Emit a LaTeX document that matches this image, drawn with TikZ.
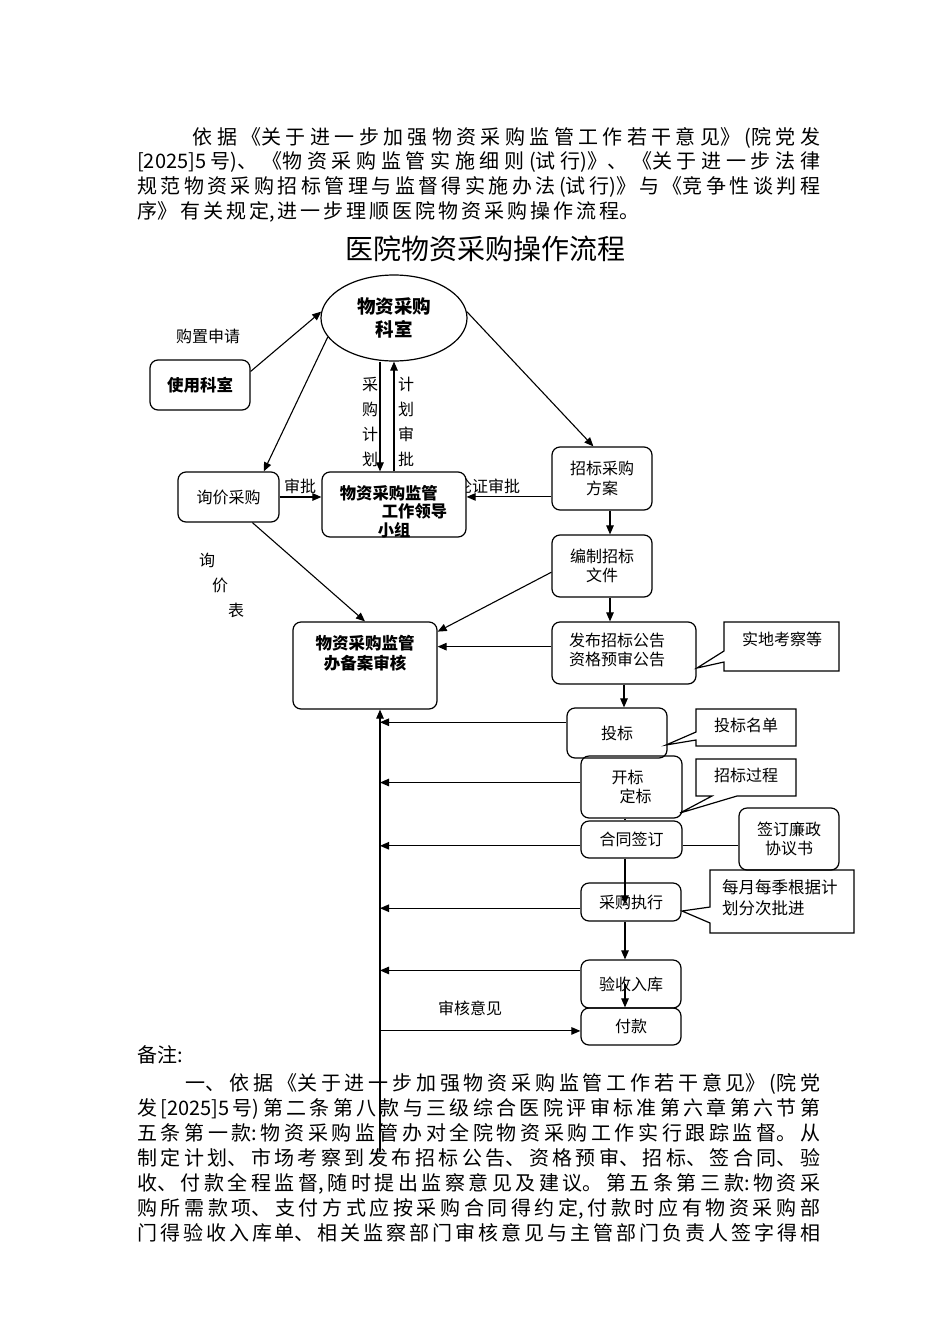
\documentclass[tikz,border=0pt]{standalone}
\usepackage{fontspec}
\setmainfont{Noto Sans CJK SC}
\usetikzlibrary{arrows.meta,shapes.geometric}
\newcommand{\jline}[1]{\noindent #1\par}
\newcommand{\cjkpar}[1]{\XeTeXlinebreaklocale "zh"\XeTeXlinebreakskip=#1 plus 20pt\relax\parfillskip=0pt\relax}

\begin{document}
\begin{tikzpicture}[x=1pt,y=-1pt,
    box/.style={draw,line width=1.2pt,rounded corners=8pt,inner sep=0pt,align=center,font=\fontsize{16}{19.5}\selectfont},
    bbox/.style={box,font=\bfseries\fontsize{16.5}{19.5}\selectfont},
    lbl/.style={inner sep=0pt,align=center,font=\fontsize{16}{19.5}\selectfont},
    note/.style={line width=1.2pt},
    para/.style={inner sep=0pt,anchor=north west,text width=683pt,align=justify},
    arr/.style={line width=1.1pt,-{Triangle[length=9pt,width=7.5pt]}},
    ln/.style={line width=1.1pt}]

    \fill[white] (0,0) rectangle (950,1344);
    \useasboundingbox (0,0) rectangle (950,1344);

    % opening text and title
    \node[para,font=\fontsize{20}{24.8}\selectfont] (intro) at (137,127) {\cjkpar{3pt}
        \jline{\hspace*{51pt}依据《关于进一步加强物资采购监管工作若干意见》(院党发}
        \jline{[2025]5号)、《物资采购监管实施细则(试行)》、《关于进一步法律}
        \jline{规范物资采购招标管理与监督得实施办法(试行)》与《竞争性谈判程}
        {\parfillskip=0pt plus 1fil\relax\jline{序》有关规定,进一步理顺医院物资采购操作流程。}}};
    \node[inner sep=0pt,font=\fontsize{28}{32}\selectfont] (title) at (485,249) {医院物资采购操作流程};

    % upper part
    \node[ellipse,draw,line width=1.2pt,minimum width=146pt,minimum height=86pt,inner sep=0pt,align=center,
          font=\bfseries\fontsize{18.5}{23}\selectfont] (ks) at (394,318) {物资采购\\科室};
    \node[bbox,minimum width=100pt,minimum height=50pt] (sy) at (200,385) {使用科室};
    \node[lbl] (gzsq) at (208,336) {购置申请};
    \node[box,minimum width=101pt,minimum height=50pt] (xj) at (228.5,497) {询价采购};

    \node[lbl] (lzsp) at (488,486) {论证审批};
    \node[box,fill=white,minimum width=144pt,minimum height=65pt] (ld) at (394,504.5) {};
    \node[lbl,align=left,font=\bfseries\fontsize{16.3}{18.5}\selectfont] (ld-t) at (393.5,511.5)
        {物资采购监管\\\hspace*{42pt}工作领导\\\hspace*{38pt}小组};

    \node[lbl,font=\fontsize{16}{25}\selectfont] (cgjh) at (370,422) {采\\购\\计\\划};
    \node[lbl,font=\fontsize{16}{25}\selectfont] (jhsp) at (406,422) {计\\划\\审\\批};
    \node[lbl] (sp) at (300,486) {审批};
    \node[lbl,align=left,font=\fontsize{16}{25}\selectfont] (xjb) at (221.5,585)
        {询\\\hspace*{13pt}价\\\hspace*{29pt}表};

    \node[box,minimum width=100pt,minimum height=63pt] (zb) at (602,478.5) {招标采购\\方案};
    \node[box,minimum width=100pt,minimum height=62pt] (bz) at (602,566) {编制招标\\文件};
    \node[box,minimum width=144pt,minimum height=62pt] (fb) at (624,653) {};
    \node[lbl] (fb-t) at (617,650) {发布招标公告\\资格预审公告};
    \node[box,minimum width=144pt,minimum height=87pt] (ba) at (365,665.5) {};
    \node[lbl,font=\bfseries\fontsize{16.5}{20}\selectfont] (ba-t) at (365,653) {物资采购监管\\办备案审核};

    % lower part
    \node[box,minimum width=100pt,minimum height=50pt] (tb) at (617,733) {投标};
    \node[box,minimum width=101pt,minimum height=62pt,align=left] (kb) at (631.5,787) {开标\\\hspace*{8pt}定标};
    \node[box,minimum width=101pt,minimum height=37pt] (ht) at (631.5,839.5) {合同签订};
    \node[box,minimum width=100pt,minimum height=38pt] (zx) at (631,902) {采购执行};
    \node[box,minimum width=100pt,minimum height=48pt] (ys) at (631,984) {验收入库};
    \node[box,minimum width=100pt,minimum height=37pt] (fk) at (631,1026.5) {付款};
    \node[box,minimum width=100pt,minimum height=62pt] (lz) at (789,839) {签订廉政\\协议书};
    \node[lbl] (shyj) at (470,1008) {审核意见};

    % callouts
    \draw[note] (724,622) -- (839,622) -- (839,671) -- (724,671) -- (724,662) -- (697,668) -- (724,651) -- cycle;
    \node[lbl] (sdkc) at (782,639) {实地考察等};
    \draw[note] (696,709) -- (796,709) -- (796,746) -- (696,746) -- (696,740) -- (666,745) -- (696,732) -- cycle;
    \node[lbl] (tbmd) at (746,725) {投标名单};
    \draw[note] (696,759) -- (796,759) -- (796,796) -- (737,796) -- (680,813) -- (712,796) -- (696,796) -- cycle;
    \node[lbl] (zbgc) at (746,775) {招标过程};
    \draw[note] (710,870) -- (854,870) -- (854,933) -- (710,933) -- (710,923) -- (682,911) -- (710,907) -- cycle;
    \node[lbl,align=left,anchor=west,font=\fontsize{16.5}{21}\selectfont] (mymj) at (722,897.5) {每月每季根据计\\划分次批进};

    % remarks
    \node[inner sep=0pt,anchor=west,font=\fontsize{20}{24}\selectfont] (rem) at (137,1055) {备注:};
    \node[para,font=\fontsize{20}{25}\selectfont] (remtext) at (137,1073.5) {\cjkpar{1.5pt}
        \jline{\hspace*{44pt}一、依据《关于进一步加强物资采购监管工作若干意见》(院党}
        \jline{发[2025]5号)第二条第八款与三级综合医院评审标准第六章第六节第}
        \jline{五条第一款:物资采购监管办对全院物资采购工作实行跟踪监督。从}
        \jline{制定计划、市场考察到发布招标公告、资格预审、招标、签合同、验}
        \jline{收、付款全程监督,随时提出监察意见及建议。第五条第三款:物资采}
        \jline{购所需款项、支付方式应按采购合同得约定,付款时应有物资采购部}
        \jline{门得验收入库单、相关监察部门审核意见与主管部门负责人签字得相}};

    % connectors
    \draw[arr] (sy.15) -- (ks.175);
    \draw[arr] (ks.196) -- (xj.36);
    \draw[arr] (ks.5) -- (zb.105);
    \draw[arr] ([xshift=-14pt]ks.south) -- ([xshift=-14pt]ld.north);
    \draw[arr] (ld.north) -- (ks.south);
    \draw[arr] (xj.east) -- (xj.east -| ld.west);
    \draw[arr] (zb.200) -- (zb.200 -| ld.east);
    \draw[arr] ([xshift=8pt]zb.south) -- ([xshift=8pt]bz.north);
    \draw[arr] ([xshift=8pt]bz.south) -- ([xshift=-14pt]fb.north);
    \draw[arr] (bz.187) -- (ba.25);
    \draw[arr] (fb.175) -- (fb.175 -| ba.east);
    \draw[arr] (xj.313) -- (ba.north);

    \draw[arr] (fb.south) -- (fb.south |- tb.north);
    \draw[ln] ([xshift=-6.5pt]kb.south) -- ([xshift=-6.5pt]ht.north);
    \draw[arr] ([xshift=-6.5pt]ht.south) -- ([xshift=-6pt,yshift=-22pt]zx.north);
    \draw[arr] ([xshift=-6pt]zx.south) -- ([xshift=-6pt]ys.north);
    \draw[arr] ([xshift=-6pt]ys.center) -- ([xshift=-6pt]fk.north);
    \draw[ln] (ht.353) -- (ht.353 -| lz.west);

    \coordinate (sb) at (380,1152);
    \draw[arr] (sb) -- (sb |- ba.south);
    \draw[arr] (tb.168) -- (tb.168 -| sb);
    \draw[arr] (kb.175) -- (kb.175 -| sb);
    \draw[arr] (ht.187) -- (ht.187 -| sb);
    \draw[arr] (zx.187) -- (zx.187 -| sb);
    \draw[arr] (ys.165) -- (ys.165 -| sb);
    \draw[arr] (fk.185 -| sb) -- (fk.185);
\end{tikzpicture}
\end{document}
